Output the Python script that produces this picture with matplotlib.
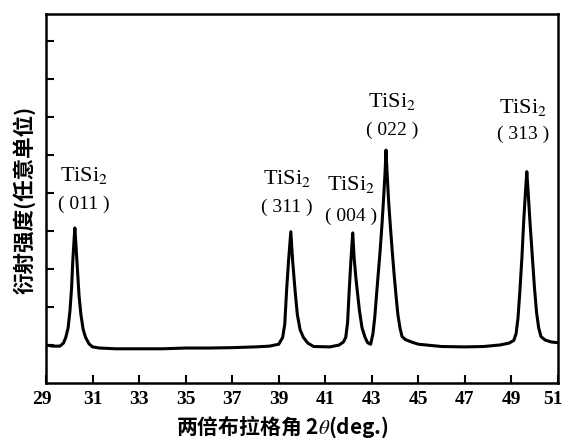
import numpy as np
import matplotlib.pyplot as plt
import matplotlib.transforms as mtransforms

plt.rcParams['mathtext.fontset'] = 'stix'

# diffraction trace (2theta in deg, intensity in tick units)
two_theta = [29.0, 29.3, 29.6, 29.75, 29.85, 29.95, 30.03, 30.1, 30.15, 30.2,
             30.24, 30.28, 30.34, 30.42, 30.5, 30.6, 30.7, 30.85, 31.0, 31.3,
             32.0, 33.0, 34.0, 35.0, 36.0, 37.0, 38.0,
             38.6, 39.0, 39.17, 39.26, 39.34, 39.42, 39.52,
             39.6, 39.7, 39.8, 39.92, 40.06, 40.25, 40.5,
             41.2, 41.6, 41.78, 41.88, 41.96, 42.03, 42.1, 42.18,
             42.24, 42.31, 42.38, 42.47, 42.58, 42.71, 42.82,
             42.95, 43.05, 43.13, 43.2, 43.28, 43.36, 43.44, 43.51, 43.57, 43.61,
             43.66, 43.72, 43.8, 43.88, 43.96, 44.04, 44.12, 44.21, 44.3, 44.45, 44.7,
             45.0, 46.0, 47.0, 47.8, 48.5,
             48.9, 49.1, 49.2, 49.28, 49.36, 49.45, 49.53, 49.6, 49.66,
             49.72, 49.8, 49.9, 49.99, 50.08, 50.17, 50.27, 50.45, 50.7, 51.0]
intensity = [1.0, 0.97, 0.97, 1.05, 1.2, 1.45, 1.9, 2.5, 3.2, 3.7,
             4.08, 3.7, 3.1, 2.3, 1.8, 1.4, 1.2, 1.03, 0.95, 0.92,
             0.9, 0.9, 0.9, 0.92, 0.92, 0.93, 0.95,
             0.97, 1.02, 1.2, 1.55, 2.45, 3.2, 3.98,
             3.2, 2.45, 1.8, 1.4, 1.2, 1.05, 0.96,
             0.95, 1.0, 1.08, 1.2, 1.6, 2.45, 3.2, 3.95,
             3.3, 2.8, 2.4, 1.9, 1.45, 1.2, 1.06,
             1.02, 1.3, 1.75, 2.3, 2.9, 3.5, 4.2, 4.9, 5.55, 6.13,
             5.5, 4.8, 4.1, 3.45, 2.85, 2.3, 1.8, 1.45, 1.22, 1.14, 1.08,
             1.02, 0.96, 0.95, 0.96, 1.0,
             1.05, 1.12, 1.3, 1.7, 2.4, 3.3, 4.3, 5.0, 5.56,
             5.0, 4.2, 3.3, 2.5, 1.85, 1.45, 1.22, 1.13, 1.08, 1.06]

phase_names = ['TiSi$_2$'] * 5
hkl = ['( 011 )', '( 311 )', '( 004 )', '( 022 )', '( 313 )']
# label anchor points (x in deg, y for the phase line / hkl line)
label_x = [30.62, 39.35, 42.12, 43.88, 49.5]
label_y_top = [5.47, 5.37, 5.21, 7.42, 7.26]
label_y_bot = [4.71, 4.63, 4.39, 6.66, 6.53]

x_ticks = list(range(29, 52, 2))
y_ticks = list(range(1, 10))

fig = plt.figure(figsize=(5.65, 4.44), dpi=100)
ax = fig.add_axes([0.0814, 0.1374, 0.9062, 0.8311])

ax.plot(two_theta, intensity, color='black', lw=2.2, solid_joinstyle='round')

for name, h, x, yt, yb in zip(phase_names, hkl, label_x, label_y_top, label_y_bot):
    ax.text(x, yt, name, ha='center', va='center', fontsize=16,
            family='Liberation Serif')
    ax.text(x, yb, h, ha='center', va='center', fontsize=14,
            family='Liberation Serif')

ax.set_xlim(29, 51)
ax.set_ylim(0, 9.71)
ax.set_xticks(x_ticks)
ax.set_xticklabels([str(t) for t in x_ticks], fontsize=14, fontweight='bold',
                   family='Liberation Serif')
ax.set_yticks(y_ticks)
ax.set_yticklabels([])
ax.tick_params(axis='x', direction='in', length=6, width=1.5, pad=6)
ax.tick_params(axis='y', direction='in', length=6, width=1.5)
for s in ax.spines.values():
    s.set_linewidth(1.8)

# first and last tick labels sit a little inside the frame in the scan
lbls = ax.get_xticklabels()
lbls[0].set_transform(lbls[0].get_transform() +
                      mtransforms.ScaledTranslation(-0.04, 0, fig.dpi_scale_trans))
lbls[-1].set_transform(lbls[-1].get_transform() +
                       mtransforms.ScaledTranslation(-0.05, 0, fig.dpi_scale_trans))

fig.text(0.499, 0.038, '两倍布拉格角 2$\\theta$(deg.)', ha='center', va='center',
         fontsize=15, fontweight='bold', family=['Noto Sans CJK SC', 'DejaVu Sans'])
fig.text(0.042, 0.55, '衍射强度(任意单位)', rotation=90, ha='center', va='center',
         fontsize=15.5, fontweight='bold', family=['Noto Sans CJK SC', 'DejaVu Sans'])

fig.savefig('out.png', dpi=100)
